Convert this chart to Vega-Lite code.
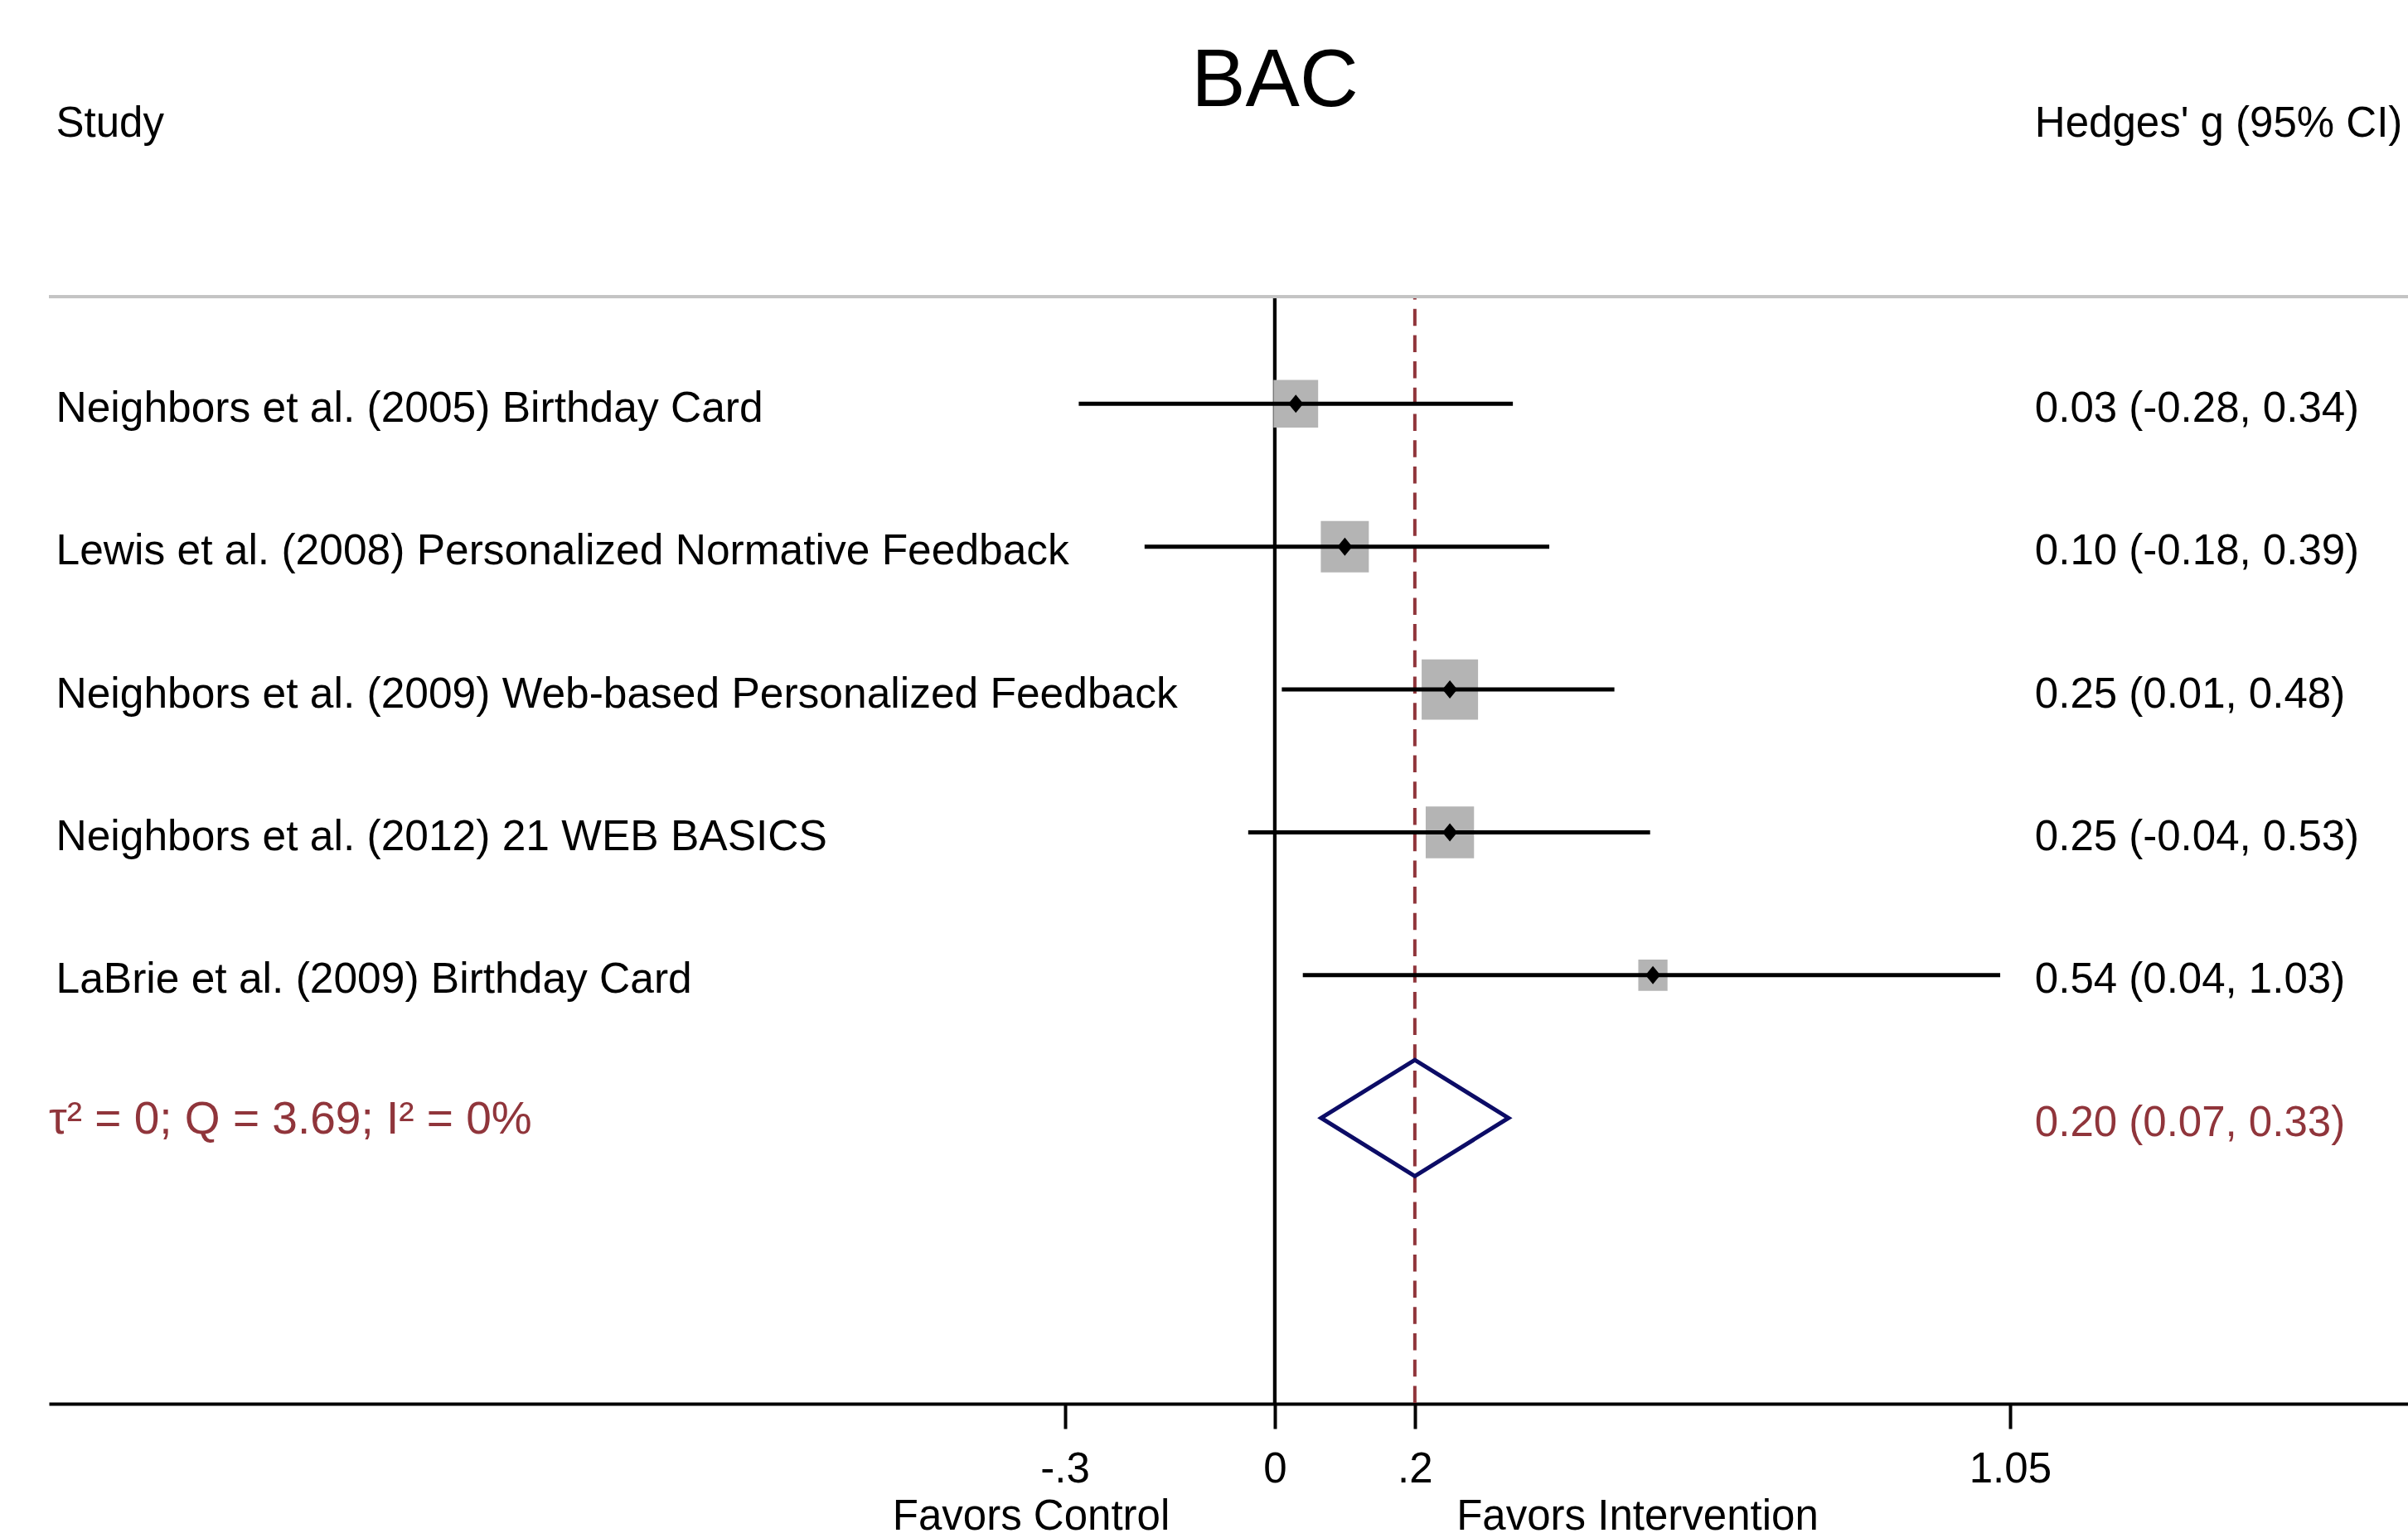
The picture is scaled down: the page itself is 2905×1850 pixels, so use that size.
{
  "$schema": "https://vega.github.io/schema/vega-lite/v6.json",
  "autosize": {"type": "none"},
  "padding": {"left": 59, "top": 358, "right": 0, "bottom": 156},
  "width": 2846,
  "height": 1336,
  "background": "white",
  "config": {"view": {"stroke": null}, "text": {"font": "Liberation Sans"}},
  "datasets": {
    "studies": [
      {"study": "Neighbors et al. (2005) Birthday Card", "row": 1, "g": 0.03, "lo": -0.28, "hi": 0.34, "weight": 18.7, "ci": "0.03 (-0.28, 0.34)"},
      {"study": "Lewis et al. (2008) Personalized Normative Feedback", "row": 2, "g": 0.10, "lo": -0.186, "hi": 0.392, "weight": 21.6, "ci": "0.10 (-0.18, 0.39)"},
      {"study": "Neighbors et al. (2009) Web-based Personalized Feedback", "row": 3, "g": 0.25, "lo": 0.01, "hi": 0.485, "weight": 29.8, "ci": "0.25 (0.01, 0.48)"},
      {"study": "Neighbors et al. (2012) 21 WEB BASICS", "row": 4, "g": 0.25, "lo": -0.038, "hi": 0.536, "weight": 21.9, "ci": "0.25 (-0.04, 0.53)"},
      {"study": "LaBrie et al. (2009) Birthday Card", "row": 5, "g": 0.54, "lo": 0.04, "hi": 1.036, "weight": 8.0, "ci": "0.54 (0.04, 1.03)"}
    ],
    "overall": [
      {"label": "τ² = 0; Q = 3.69; I² = 0%", "row": 6, "g": 0.20, "lo": 0.07, "hi": 0.33, "ci": "0.20 (0.07, 0.33)"}
    ]
  },
  "layer": [
    {
      "data": {"values": [{}]},
      "mark": {"type": "rule", "color": "black", "strokeWidth": 4.3},
      "encoding": {
        "x": {"datum": 0, "type": "quantitative", "scale": {"domain": [-1.7508, 1.6184], "nice": false, "zero": false},
          "axis": {"values": [-0.3, 0, 0.2, 1.05], "labelExpr": "datum.value == -0.3 ? '-.3' : datum.value == 0.2 ? '.2' : datum.value == 0 ? '0' : '1.05'", "grid": false, "domainColor": "black", "domainWidth": 4, "tickColor": "black", "tickWidth": 4, "tickSize": 30, "labelPadding": 24, "labelFont": "Liberation Sans", "labelFontSize": 51, "labelColor": "black", "labelFlush": false, "labelOverlap": false, "title": null}}
      }
    },
    {
      "data": {"values": [{}]},
      "mark": {"type": "rule", "color": "#90353b", "strokeWidth": 4, "strokeDash": [20.5, 11.2], "strokeDashOffset": 17},
      "encoding": {
        "x": {"datum": 0.2, "type": "quantitative", "scale": {"domain": [-1.7508, 1.6184], "nice": false, "zero": false}}
      }
    },
    {
      "data": {"values": [{}]},
      "mark": {"type": "rule", "color": "#c4c4c4", "strokeWidth": 4},
      "encoding": {
        "y": {"datum": 0.25, "type": "quantitative", "scale": {"domain": [0.25, 8], "reverse": true, "nice": false, "zero": false}, "axis": null}
      }
    },
    {
      "data": {"name": "studies"},
      "mark": {"type": "point", "shape": "M-0.935,-1L0.935,-1L0.935,1L-0.935,1Z", "filled": true, "color": "#b4b4b4", "opacity": 1},
      "encoding": {
        "x": {"field": "g", "type": "quantitative", "scale": {"domain": [-1.7508, 1.6184], "nice": false, "zero": false}},
        "y": {"field": "row", "type": "quantitative", "scale": {"domain": [0.25, 8], "reverse": true, "nice": false, "zero": false}, "axis": null},
        "size": {"field": "weight", "type": "quantitative", "scale": {"domain": [0, 100], "range": [0, 17760], "zero": true}, "legend": null}
      }
    },
    {
      "data": {"name": "studies"},
      "mark": {"type": "rule", "color": "black", "strokeWidth": 5},
      "encoding": {
        "x": {"field": "lo", "type": "quantitative", "scale": {"domain": [-1.7508, 1.6184], "nice": false, "zero": false}},
        "x2": {"field": "hi"},
        "y": {"field": "row", "type": "quantitative", "scale": {"domain": [0.25, 8], "reverse": true, "nice": false, "zero": false}, "axis": null}
      }
    },
    {
      "data": {"name": "studies"},
      "mark": {"type": "point", "shape": "M-0.82,0L0,-1L0.82,0L0,1Z", "filled": true, "color": "black", "opacity": 1, "size": 484},
      "encoding": {
        "x": {"field": "g", "type": "quantitative", "scale": {"domain": [-1.7508, 1.6184], "nice": false, "zero": false}},
        "y": {"field": "row", "type": "quantitative", "scale": {"domain": [0.25, 8], "reverse": true, "nice": false, "zero": false}, "axis": null}
      }
    },
    {
      "data": {"name": "overall"},
      "mark": {"type": "point", "shape": "M-1,0L0,-0.62L1,0L0,0.62Z", "filled": false, "color": "#0c0c66", "strokeWidth": 5, "strokeJoin": "miter", "opacity": 1, "size": 51076},
      "encoding": {
        "x": {"field": "g", "type": "quantitative", "scale": {"domain": [-1.7508, 1.6184], "nice": false, "zero": false}},
        "y": {"field": "row", "type": "quantitative", "scale": {"domain": [0.25, 8], "reverse": true, "nice": false, "zero": false}, "axis": null}
      }
    },
    {
      "data": {"name": "studies"},
      "mark": {"type": "text", "align": "left", "baseline": "alphabetic", "dy": 21.5, "fontSize": 51.5, "color": "black"},
      "encoding": {
        "x": {"datum": -1.7407, "type": "quantitative", "scale": {"domain": [-1.7508, 1.6184], "nice": false, "zero": false}},
        "y": {"field": "row", "type": "quantitative", "scale": {"domain": [0.25, 8], "reverse": true, "nice": false, "zero": false}, "axis": null},
        "text": {"field": "study"}
      }
    },
    {
      "data": {"name": "studies"},
      "mark": {"type": "text", "align": "left", "baseline": "alphabetic", "dy": 21.5, "fontSize": 51, "color": "black"},
      "encoding": {
        "x": {"datum": 1.0855, "type": "quantitative", "scale": {"domain": [-1.7508, 1.6184], "nice": false, "zero": false}},
        "y": {"field": "row", "type": "quantitative", "scale": {"domain": [0.25, 8], "reverse": true, "nice": false, "zero": false}, "axis": null},
        "text": {"field": "ci"}
      }
    },
    {
      "data": {"name": "overall"},
      "mark": {"type": "text", "align": "left", "baseline": "alphabetic", "dy": 19, "fontSize": 55, "color": "#90353b"},
      "encoding": {
        "x": {"datum": -1.7508, "type": "quantitative", "scale": {"domain": [-1.7508, 1.6184], "nice": false, "zero": false}},
        "y": {"field": "row", "type": "quantitative", "scale": {"domain": [0.25, 8], "reverse": true, "nice": false, "zero": false}, "axis": null},
        "text": {"field": "label"}
      }
    },
    {
      "data": {"name": "overall"},
      "mark": {"type": "text", "align": "left", "baseline": "alphabetic", "dy": 22, "fontSize": 51, "color": "#90353b"},
      "encoding": {
        "x": {"datum": 1.0855, "type": "quantitative", "scale": {"domain": [-1.7508, 1.6184], "nice": false, "zero": false}},
        "y": {"field": "row", "type": "quantitative", "scale": {"domain": [0.25, 8], "reverse": true, "nice": false, "zero": false}, "axis": null},
        "text": {"field": "ci"}
      }
    },
    {
      "data": {"values": [{"t": "Study"}]},
      "mark": {"type": "text", "align": "left", "baseline": "alphabetic", "fontSize": 51, "color": "black"},
      "encoding": {
        "x": {"datum": -1.7407, "type": "quantitative", "scale": {"domain": [-1.7508, 1.6184], "nice": false, "zero": false}},
        "y": {"datum": -0.87, "type": "quantitative", "scale": {"domain": [0.25, 8], "reverse": true, "nice": false, "zero": false}, "axis": null},
        "text": {"field": "t"}
      }
    },
    {
      "data": {"values": [{"t": "Hedges' g (95% CI)"}]},
      "mark": {"type": "text", "align": "left", "baseline": "alphabetic", "fontSize": 51, "color": "black"},
      "encoding": {
        "x": {"datum": 1.0855, "type": "quantitative", "scale": {"domain": [-1.7508, 1.6184], "nice": false, "zero": false}},
        "y": {"datum": -0.87, "type": "quantitative", "scale": {"domain": [0.25, 8], "reverse": true, "nice": false, "zero": false}, "axis": null},
        "text": {"field": "t"}
      }
    },
    {
      "data": {"values": [{"t": "BAC"}]},
      "mark": {"type": "text", "align": "center", "baseline": "alphabetic", "fontSize": 98, "color": "black"},
      "encoding": {
        "x": {"datum": 0, "type": "quantitative", "scale": {"domain": [-1.7508, 1.6184], "nice": false, "zero": false}},
        "y": {"datum": -1.0824, "type": "quantitative", "scale": {"domain": [0.25, 8], "reverse": true, "nice": false, "zero": false}, "axis": null},
        "text": {"field": "t"}
      }
    },
    {
      "data": {"values": [{"t": "Favors Control"}]},
      "mark": {"type": "text", "align": "center", "baseline": "alphabetic", "fontSize": 51, "color": "black"},
      "encoding": {
        "x": {"datum": -0.3479, "type": "quantitative", "scale": {"domain": [-1.7508, 1.6184], "nice": false, "zero": false}},
        "y": {"datum": 8.88, "type": "quantitative", "scale": {"domain": [0.25, 8], "reverse": true, "nice": false, "zero": false}, "axis": null},
        "text": {"field": "t"}
      }
    },
    {
      "data": {"values": [{"t": "Favors Intervention"}]},
      "mark": {"type": "text", "align": "center", "baseline": "alphabetic", "fontSize": 51, "color": "black"},
      "encoding": {
        "x": {"datum": 0.518, "type": "quantitative", "scale": {"domain": [-1.7508, 1.6184], "nice": false, "zero": false}},
        "y": {"datum": 8.88, "type": "quantitative", "scale": {"domain": [0.25, 8], "reverse": true, "nice": false, "zero": false}, "axis": null},
        "text": {"field": "t"}
      }
    }
  ]
}
